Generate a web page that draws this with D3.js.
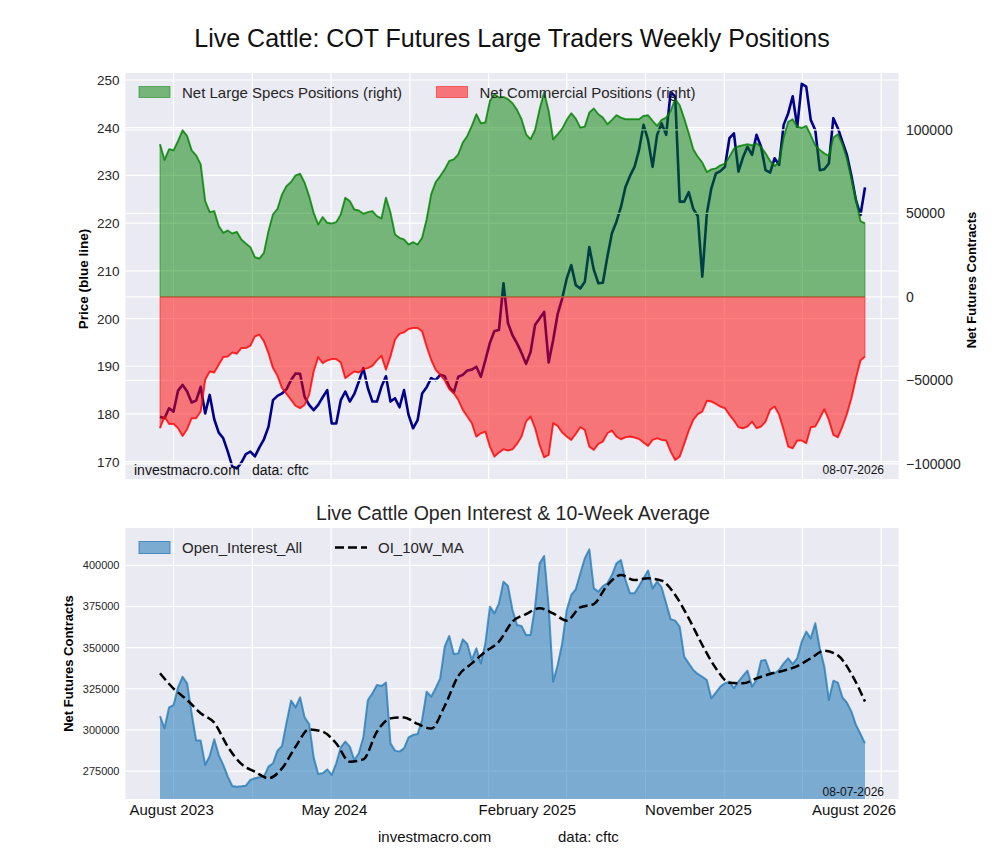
<!DOCTYPE html>
<html>
<head>
<meta charset="utf-8">
<script src="https://cdn.jsdelivr.net/npm/d3@7"></script>
<style>
  body { margin: 0; background: #fff; }
  svg { font-family: "Liberation Sans", Arial, sans-serif; }
</style>
</head>
<body>
<svg id="chart" width="1000" height="860"></svg>
<script>
// weekly COT reports, first Tuesday of the window
const firstWeek = "2023-07-11";
const weekCount = 157;

// Live cattle price (left axis)
const price = [
  179.4,179.1,181.2,180.5,184.9,186.1,184.7,182.4,182.8,185.7,
  180.1,184.0,178.9,176.1,174.9,172.1,169.0,168.6,169.8,171.6,
  172.1,171.1,173.0,174.7,177.3,182.9,183.8,184.3,185.2,187.1,
  188.5,188.4,183.6,181.9,180.8,181.9,183.5,185.0,178.0,178.0,
  182.9,184.7,182.6,184.2,186.8,189.6,185.4,182.6,182.6,185.7,
  187.9,182.6,183.3,181.4,185.0,179.8,177.0,178.7,184.3,185.6,
  187.5,187.1,188.2,187.9,185.7,184.5,187.8,188.2,189.1,189.3,
  189.9,187.8,191.3,194.9,197.4,197.6,207.4,199.0,196.5,194.8,
  192.8,190.5,193.0,198.7,200.0,201.4,190.8,195.5,201.0,204.2,
  208.4,211.2,207.0,206.3,207.7,215.0,210.2,207.4,207.5,213.0,
  217.9,220.3,223.4,227.6,229.9,231.8,235.3,240.6,237.4,231.8,
  238.5,240.9,238.5,247.5,246.5,224.5,224.5,226.5,223.0,221.5,
  208.8,222.0,227.3,230.4,230.9,231.8,237.8,238.8,230.8,233.8,
  236.0,234.3,238.5,236.0,231.1,230.6,233.6,232.2,240.6,243.0,
  246.6,240.2,249.2,248.6,241.6,239.5,231.1,231.3,232.5,242.0,
  239.9,237.1,234.3,229.9,224.8,221.7,227.5
];

// net large speculator positions, thousands of contracts (right axis)
const largeSpecs = [
  91.4,82.0,88.4,87.8,93.4,99.8,96.4,87.8,84.8,79.4,
  57.4,50.8,51.4,42.4,38.4,39.8,38.0,39.0,34.4,32.0,
  29.8,23.8,23.0,26.4,39.4,49.4,52.8,61.4,66.4,68.8,
  72.8,73.8,68.4,60.4,50.4,43.4,47.8,44.4,44.0,44.8,
  49.4,59.4,57.4,52.4,51.8,49.8,50.8,51.4,48.4,47.0,
  59.4,50.4,37.4,35.4,34.4,31.4,32.8,31.4,35.4,46.4,
  61.4,68.8,72.4,76.4,81.4,82.4,85.4,92.4,96.4,102.4,
  109.4,104.0,104.4,117.4,121.4,119.4,119.8,118.4,116.0,112.0,
  106.4,97.4,94.4,100.0,112.4,122.4,111.4,94.4,97.4,100.8,
  106.0,110.0,106.8,101.4,102.0,110.4,112.8,109.4,107.4,103.4,
  106.0,108.8,107.4,106.4,106.4,106.4,106.4,108.4,108.8,105.4,
  102.4,106.0,107.4,111.4,118.4,114.8,106.8,98.0,88.4,84.0,
  80.4,74.8,76.4,77.0,78.8,79.8,84.0,88.8,90.2,90.8,
  91.4,90.8,92.0,89.8,86.0,81.4,78.4,80.8,95.4,104.8,
  106.4,102.0,101.2,102.4,96.8,90.8,88.0,86.0,84.4,95.4,
  97.4,91.4,82.8,70.8,58.4,45.4,44.0
];

// net commercial positions, thousands of contracts (right axis)
const commercial = [
  -78.6,-71.6,-76.0,-76.0,-78.6,-83.2,-79.2,-72.6,-72.6,-68.6,
  -49.6,-44.6,-45.2,-40.6,-36.0,-35.6,-33.2,-34.0,-30.6,-30.6,
  -29.2,-23.6,-22.6,-26.6,-33.6,-42.6,-47.2,-54.6,-58.0,-61.6,
  -65.2,-66.6,-64.6,-58.6,-44.6,-36.0,-39.6,-38.0,-37.2,-37.2,
  -39.2,-48.6,-46.6,-44.6,-45.2,-43.2,-42.6,-41.2,-38.0,-35.2,
  -43.6,-35.6,-25.6,-22.0,-21.2,-19.2,-18.6,-18.6,-20.6,-29.6,
  -37.6,-43.6,-46.6,-50.0,-55.2,-57.6,-61.6,-67.6,-71.6,-75.6,
  -83.6,-81.6,-80.6,-89.6,-95.6,-93.2,-91.2,-92.0,-91.2,-88.0,
  -83.6,-74.6,-71.6,-78.6,-88.6,-96.0,-94.6,-75.6,-77.2,-81.2,
  -83.6,-85.6,-82.0,-78.0,-79.6,-89.6,-91.6,-88.0,-86.6,-81.6,
  -80.0,-83.6,-85.2,-84.0,-83.6,-84.2,-85.0,-87.2,-89.2,-85.6,
  -84.6,-85.6,-86.0,-92.6,-97.6,-95.6,-88.0,-80.0,-73.6,-70.2,
  -68.6,-62.2,-62.6,-64.0,-65.6,-66.6,-70.6,-74.0,-78.0,-78.6,
  -77.6,-74.6,-78.6,-77.6,-74.6,-67.6,-65.6,-70.6,-79.6,-89.6,
  -90.6,-86.0,-86.0,-87.6,-78.0,-77.6,-72.6,-67.2,-73.6,-82.6,
  -84.0,-77.6,-70.0,-60.6,-48.6,-38.0,-35.6
];

// open interest, thousands of contracts
const openInterest = [
  308.4,301.0,313.7,315.1,325.9,332.3,328.3,310.1,293.5,293.5,
  278.7,284.1,294.3,284.7,278.7,271.6,265.9,265.5,265.7,266.1,
  269.6,270.6,271.2,271.6,277.7,279.7,287.4,290.2,304.4,317.8,
  313.7,319.8,307.6,303.6,283.3,273.2,273.6,276.0,272.6,279.7,
  289.4,292.9,289.8,281.7,285.8,295.5,318.2,322.2,327.3,326.7,
  328.7,291.8,287.4,286.8,288.8,295.5,296.9,297.5,306.0,323.2,
  320.2,325.3,331.3,350.6,357.1,346.1,346.5,355.0,352.2,342.5,
  349.6,340.4,352.6,374.9,370.8,376.9,390.1,387.4,372.9,363.7,
  363.1,357.7,357.7,374.9,401.2,405.7,374.9,329.3,339.4,352.6,
  372.9,382.0,385.4,395.1,404.3,409.7,386.0,384.0,387.4,389.1,
  394.1,401.2,403.2,391.1,383.0,383.0,387.4,392.1,396.8,386.0,
  390.1,386.6,376.9,367.2,366.4,362.7,344.5,340.4,336.4,334.0,
  332.3,330.3,319.2,322.6,326.3,328.3,329.3,325.3,329.3,332.8,
  336.0,326.3,330.3,342.1,342.5,334.8,334.4,336.4,340.4,343.5,
  340.0,343.5,353.6,359.7,355.6,364.8,349.6,338.4,318.2,329.9,
  328.7,319.8,316.5,311.1,303.0,297.5,291.8
];

// 10-week average of open interest, read every third week, thousands
const maEvery = 3;
const oiMA = [
  334.4,325.1,318.2,310.1,304.4,289.8,279.3,274.6,270.6,276.6,
  289.8,300.3,298.9,291.8,280.7,282.1,298.9,307.0,307.6,303.6,
  300.8,314.5,332.8,340.4,347.5,353.6,365.8,370.4,373.9,370.8,
  366.4,374.5,376.5,388.0,394.1,391.1,392.1,390.7,382.0,367.8,
  351.6,337.4,328.7,328.3,331.3,334.0,336.0,338.8,343.5,348.1,
  345.3,334.0,317.2
];

const priceTicks = [170, 180, 190, 200, 210, 220, 230, 240, 250];
const netTicks = [-100000, -50000, 0, 50000, 100000];
const oiTicks = [275000, 300000, 325000, 350000, 375000, 400000];
const xLabels = ["August 2023", "May 2024", "February 2025", "November 2025", "August 2026"];
const xLabelDates = ["2023-07-29", "2024-04-06", "2025-01-30", "2025-10-22", "2026-06-20"];

const parse = d3.utcParse("%Y-%m-%d");
const start = parse(firstWeek);
const dates = d3.range(weekCount).map(i => d3.utcDay.offset(start, 7 * i));

const svg = d3.select("#chart");
const bg = "#eaeaf2", ink = "#262626";

// both panels share one time axis: first week at x=160, last at x=865
const pA = {l: 125.5, r: 898.5, t: 73, b: 479};
const pB = {l: 125.5, r: 898.5, t: 528, b: 799};
const d0 = +dates[0], dN = +dates[weekCount - 1], span = dN - d0;
const x = d3.scaleUtc()
  .domain([new Date(d0 - span * 34.5 / 705), new Date(dN + span * 33.5 / 705)])
  .range([pA.l, pA.r]);
const gridDates = d3.utcMonths(x.domain()[0], x.domain()[1]).filter(d => d.getUTCMonth() % 4 === 3);

const yPrice = d3.scaleLinear().domain([166.37, 251.47]).range([pA.b, pA.t]);
const yNet = d3.scaleLinear().domain([-109000, 134100]).range([pA.b, pA.t]);
const yOI = d3.scaleLinear().domain([258000, 422700]).range([pB.b, pB.t]);

const defs = svg.append("defs");
[["clipA", pA], ["clipB", pB]].forEach(([id, p]) => {
  defs.append("clipPath").attr("id", id).append("rect")
    .attr("x", p.l).attr("y", p.t).attr("width", p.r - p.l).attr("height", p.b - p.t);
});

function panel(p) {
  const g = svg.append("g");
  g.append("rect").attr("x", p.l).attr("y", p.t).attr("width", p.r - p.l).attr("height", p.b - p.t).attr("fill", bg);
  return g;
}
function hGrid(g, p, scale, ticks) {
  g.selectAll(null).data(ticks).join("line")
    .attr("x1", p.l).attr("x2", p.r)
    .attr("y1", d => scale(d)).attr("y2", d => scale(d))
    .attr("stroke", "#fff").attr("stroke-width", 1.2);
}
function vGrid(g, p) {
  g.selectAll(null).data(gridDates).join("line")
    .attr("x1", d => x(d)).attr("x2", d => x(d))
    .attr("y1", p.t).attr("y2", p.b)
    .attr("stroke", "#fff").attr("stroke-width", 1.2);
}

// ---------- top panel ----------
svg.append("text").attr("x", 512).attr("y", 47).attr("text-anchor", "middle")
  .attr("font-size", 25).attr("fill", "#111")
  .text("Live Cattle: COT Futures Large Traders Weekly Positions");

const gA = panel(pA);
vGrid(gA, pA);
hGrid(gA, pA, yPrice, priceTicks);

gA.append("path").datum(price)
  .attr("clip-path", "url(#clipA)")
  .attr("fill", "none").attr("stroke", "darkblue").attr("stroke-width", 2.6)
  .attr("stroke-linejoin", "round")
  .attr("d", d3.line().x((d, i) => x(dates[i])).y(d => yPrice(d)));

// twin axis grid sits above the price line
hGrid(gA, pA, yNet, netTicks);

function netLayer(values, color) {
  const area = d3.area().x((d, i) => x(dates[i])).y0(yNet(0)).y1(d => yNet(d * 1000));
  const line = d3.line().x((d, i) => x(dates[i])).y(d => yNet(d * 1000));
  gA.append("path").datum(values).attr("clip-path", "url(#clipA)")
    .attr("d", area).attr("fill", color).attr("fill-opacity", 0.5)
    .attr("stroke", color).attr("stroke-opacity", 0.5).attr("stroke-width", 1);
  gA.append("path").datum(values).attr("clip-path", "url(#clipA)")
    .attr("d", line).attr("fill", "none").attr("stroke", color)
    .attr("stroke-opacity", 0.7).attr("stroke-width", 2).attr("stroke-linejoin", "round");
}
netLayer(largeSpecs, "green");
netLayer(commercial, "red");

// legend
[["Net Large Specs Positions (right)", "green", 139], ["Net Commercial Positions (right)", "red", 436.5]]
  .forEach(([label, color, lx]) => {
    gA.append("rect").attr("x", lx).attr("y", 86.5).attr("width", 31).attr("height", 11)
      .attr("fill", color).attr("fill-opacity", 0.5).attr("stroke", color).attr("stroke-opacity", 0.5);
    gA.append("text").attr("x", lx + 43).attr("y", 97.5).attr("font-size", 15).attr("fill", ink).text(label);
  });

// axes labels
gA.selectAll(null).data(priceTicks).join("text")
  .attr("x", 119.5).attr("y", d => yPrice(d) + 5).attr("text-anchor", "end")
  .attr("font-size", 13.5).attr("fill", ink).text(d => d);
gA.selectAll(null).data(netTicks).join("text")
  .attr("x", 906).attr("y", d => yNet(d) + 5)
  .attr("font-size", 14).attr("fill", ink).text(d => d < 0 ? "\u2212" + Math.abs(d) : d);
gA.append("text").attr("transform", `translate(88,${(pA.t + pA.b) / 2 + 3}) rotate(-90)`)
  .attr("text-anchor", "middle").attr("font-size", 13.5).attr("font-weight", "bold").text("Price (blue line)");
gA.append("text").attr("transform", `translate(976,${(pA.t + pA.b) / 2 + 4}) rotate(-90)`)
  .attr("text-anchor", "middle").attr("font-size", 13).attr("font-weight", "bold").text("Net Futures Contracts");
gA.append("text").attr("x", 134).attr("y", 475).attr("font-size", 14).attr("fill", "#111").text("investmacro.com");
gA.append("text").attr("x", 252).attr("y", 475).attr("font-size", 14).attr("fill", "#111").text("data: cftc");
gA.append("text").attr("x", 884).attr("y", 474).attr("text-anchor", "end").attr("font-size", 12).attr("fill", "#111").text("08-07-2026");

// ---------- bottom panel ----------
svg.append("text").attr("x", 513).attr("y", 520).attr("text-anchor", "middle")
  .attr("font-size", 19.5).attr("fill", ink).text("Live Cattle Open Interest & 10-Week Average");

const gB = panel(pB);
vGrid(gB, pB);
hGrid(gB, pB, yOI, oiTicks);

const oiColor = "#1f77b4";
gB.append("path").datum(openInterest).attr("clip-path", "url(#clipB)")
  .attr("d", d3.area().x((d, i) => x(dates[i])).y0(pB.b + 5).y1(d => yOI(d * 1000)))
  .attr("fill", oiColor).attr("fill-opacity", 0.55);
gB.append("path").datum(openInterest).attr("clip-path", "url(#clipB)")
  .attr("d", d3.line().x((d, i) => x(dates[i])).y(d => yOI(d * 1000)))
  .attr("fill", "none").attr("stroke", oiColor).attr("stroke-opacity", 0.75)
  .attr("stroke-width", 2).attr("stroke-linejoin", "round");
gB.append("path").datum(oiMA).attr("clip-path", "url(#clipB)")
  .attr("d", d3.line().x((d, i) => x(dates[i * maEvery])).y(d => yOI(d * 1000)).curve(d3.curveMonotoneX))
  .attr("fill", "none").attr("stroke", "#000").attr("stroke-width", 2.5).attr("stroke-dasharray", "9,4");

// legend
gB.append("rect").attr("x", 139).attr("y", 541.5).attr("width", 31).attr("height", 12)
  .attr("fill", oiColor).attr("fill-opacity", 0.55).attr("stroke", oiColor).attr("stroke-opacity", 0.75);
gB.append("text").attr("x", 182).attr("y", 553).attr("font-size", 15).attr("fill", ink).text("Open_Interest_All");
gB.append("line").attr("x1", 335).attr("x2", 367).attr("y1", 547.5).attr("y2", 547.5)
  .attr("stroke", "#000").attr("stroke-width", 2.5).attr("stroke-dasharray", "9,4");
gB.append("text").attr("x", 378).attr("y", 553).attr("font-size", 15).attr("fill", ink).text("OI_10W_MA");

gB.selectAll(null).data(oiTicks).join("text")
  .attr("x", 119.5).attr("y", d => yOI(d) + 4).attr("text-anchor", "end")
  .attr("font-size", 11).attr("fill", ink).text(d => d);
gB.selectAll(null).data(xLabels).join("text")
  .attr("x", (d, i) => x(parse(xLabelDates[i]))).attr("y", 815)
  .attr("text-anchor", "middle").attr("font-size", 15).attr("fill", "#111").text(d => d);
gB.append("text").attr("transform", `translate(73,${(pB.t + pB.b) / 2}) rotate(-90)`)
  .attr("text-anchor", "middle").attr("font-size", 13).attr("font-weight", "bold").text("Net Futures Contracts");
gB.append("text").attr("x", 884).attr("y", 796).attr("text-anchor", "end").attr("font-size", 12).attr("fill", "#111").text("08-07-2026");

svg.append("text").attr("x", 378).attr("y", 842).attr("font-size", 15).attr("fill", "#111").text("investmacro.com");
svg.append("text").attr("x", 558).attr("y", 842).attr("font-size", 15).attr("fill", "#111").text("data: cftc");
</script>
</body>
</html>
